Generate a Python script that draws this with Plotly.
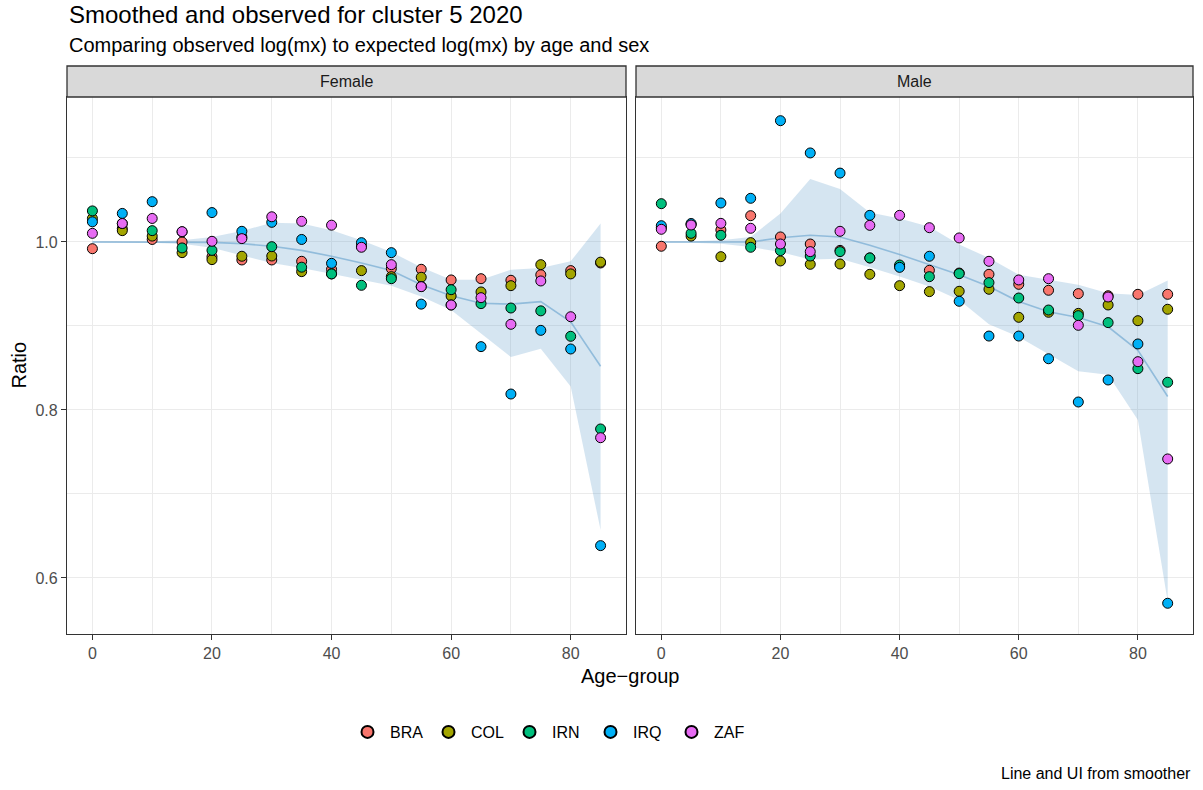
import plotly.graph_objects as go

# ---- data -------------------------------------------------------------
ages = [0, 5, 10, 15, 20, 25, 30, 35, 40, 45, 50, 55, 60, 65, 70, 75, 80, 85]
countries = ["BRA", "COL", "IRN", "IRQ", "ZAF"]
colors = {"BRA": "#F8766D", "COL": "#A3A500", "IRN": "#00BF7D",
          "IRQ": "#00B0F6", "ZAF": "#E76BF3"}

female_bra = [0.992, 1.016, 1.003, 1.000, 0.9825, 0.9786, 0.9786, 0.977, 0.9675, 0.995, 0.9683, 0.9675, 0.9548, 0.9563, 0.9544, 0.961, 0.9659, 0.975]
female_col = [1.028, 1.0135, 1.007, 0.9873, 0.979, 0.983, 0.9833, 0.9647, 0.962, 0.9659, 0.9587, 0.958, 0.9357, 0.9405, 0.948, 0.973, 0.962, 0.976]
female_irn = [1.037, 1.022, 1.0135, 0.9929, 0.990, 1.006, 0.9944, 0.970, 0.962, 0.9484, 0.9563, 0.947, 0.9432, 0.9266, 0.9214, 0.918, 0.8877, 0.7774]
female_irq = [1.024, 1.034, 1.048, 1.012, 1.035, 1.0127, 1.0234, 1.003, 0.9746, 0.9992, 0.9873, 0.926, 0.925, 0.8754, 0.819, 0.8948, 0.8726, 0.6385]
female_zaf = [1.0103, 1.022, 1.028, 1.0123, 1.0008, 1.004, 1.030, 1.0246, 1.020, 0.9937, 0.973, 0.9468, 0.925, 0.9337, 0.902, 0.9536, 0.911, 0.767]

male_bra = [0.9949, 1.021, 1.0143, 1.0313, 1.006, 0.9976, 0.990, 0.981, 0.971, 0.9663, 0.963, 0.9615, 0.9496, 0.9425, 0.9385, 0.936, 0.9377, 0.9377]
male_col = [1.017, 1.007, 0.9825, 0.9992, 0.9774, 0.9734, 0.9738, 0.9615, 0.948, 0.9409, 0.9413, 0.9437, 0.9103, 0.9163, 0.915, 0.925, 0.9063, 0.9199]
male_irn = [1.0456, 1.0103, 1.008, 0.9937, 0.9897, 0.9833, 0.9885, 0.981, 0.9726, 0.9587, 0.9623, 0.9516, 0.9333, 0.919, 0.9123, 0.904, 0.8492, 0.833]
male_irq = [1.0194, 1.022, 1.0464, 1.052, 1.1444, 1.106, 1.082, 1.0317, 0.9698, 0.983, 0.9294, 0.888, 0.888, 0.861, 0.8095, 0.8357, 0.8786, 0.5699]
male_zaf = [1.0151, 1.0202, 1.0222, 1.0163, 0.9976, 0.9885, 1.0127, 1.0198, 1.0317, 1.017, 1.0048, 0.977, 0.9548, 0.9563, 0.9008, 0.9345, 0.8575, 0.7417]

# smoother fit and uncertainty interval
female_fit = [1.0, 1.0, 1.0, 1.0, 0.9995, 0.998, 0.995, 0.990, 0.983, 0.975, 0.966, 0.949, 0.936, 0.927, 0.926, 0.929, 0.905, 0.852]
female_hi = [1.001, 1.001, 1.001, 1.002, 1.006, 1.013, 1.023, 1.022, 1.014, 1.002, 0.988, 0.970, 0.955, 0.955, 0.967, 0.969, 0.977, 1.022]
female_lo = [0.999, 0.999, 0.999, 0.998, 0.993, 0.984, 0.975, 0.969, 0.962, 0.955, 0.948, 0.935, 0.919, 0.891, 0.863, 0.873, 0.828, 0.657]

male_fit = [1.0, 1.0, 0.9995, 1.0, 1.005, 1.008, 1.006, 0.996, 0.985, 0.973, 0.961, 0.947, 0.929, 0.917, 0.910, 0.899, 0.871, 0.816]
male_hi = [1.001, 1.001, 1.002, 1.006, 1.034, 1.075, 1.063, 1.035, 1.028, 1.018, 0.997, 0.981, 0.961, 0.955, 0.949, 0.939, 0.937, 0.954]
male_lo = [0.999, 0.999, 0.998, 0.994, 0.988, 0.979, 0.980, 0.970, 0.959, 0.947, 0.931, 0.902, 0.887, 0.867, 0.846, 0.842, 0.788, 0.572]

female = {"BRA": female_bra, "COL": female_col, "IRN": female_irn,
          "IRQ": female_irq, "ZAF": female_zaf}
male = {"BRA": male_bra, "COL": male_col, "IRN": male_irn,
        "IRQ": male_irq, "ZAF": male_zaf}

x_ticks = [0, 20, 40, 60, 80]
y_ticks = [0.6, 0.8, 1.0]

# ---- layout geometry (pixels) ------------------------------------------
W, H = 1203, 790
FONT = "Liberation Sans, Arial, Helvetica, sans-serif"
px_x = lambda p: p / W
px_y = lambda p: 1 - p / H

panels = [("x", "y", 67, 626, "Female", female, female_fit, female_hi, female_lo),
          ("x2", "y2", 636, 1193, "Male", male, male_fit, male_hi, male_lo)]
panel_top, panel_bottom, strip_top = 97, 634, 66

fig = go.Figure()

for i, (xa, ya, left, right, label, obs, fit, hi, lo) in enumerate(panels):
    # uncertainty band
    fig.add_trace(go.Scatter(
        x=ages + ages[::-1], y=hi + lo[::-1], xaxis=xa, yaxis=ya,
        mode="lines", fill="toself", fillcolor="rgba(100,160,205,0.27)",
        line=dict(width=0), hoverinfo="skip", showlegend=False))
    # smoothed line
    fig.add_trace(go.Scatter(
        x=ages, y=fit, xaxis=xa, yaxis=ya, mode="lines",
        line=dict(color="rgba(100,160,205,0.6)", width=1.6),
        hoverinfo="skip", showlegend=False))

for i, (xa, ya, left, right, label, obs, fit, hi, lo) in enumerate(panels):
    for c in countries:
        fig.add_trace(go.Scatter(
            x=ages, y=obs[c], xaxis=xa, yaxis=ya, mode="markers",
            name=c, legendgroup=c, showlegend=(i == 0),
            marker=dict(size=10, color=colors[c], symbol="circle",
                        line=dict(color="black", width=1))))

axis_common = dict(
    showline=True, mirror=True, linecolor="#333333", linewidth=1.3,
    showgrid=True, gridcolor="#EBEBEB", gridwidth=1.3, zeroline=False,
    ticks="outside", ticklen=5, tickwidth=1.3, tickcolor="#333333",
    tickfont=dict(family=FONT, size=16, color="#4D4D4D"),
)

layout_axes = {}
for i, (xa, ya, left, right, label, obs, fit, hi, lo) in enumerate(panels):
    xkey = "xaxis" if xa == "x" else "xaxis2"
    ykey = "yaxis" if ya == "y" else "yaxis2"
    layout_axes[xkey] = dict(
        axis_common, domain=[px_x(left), px_x(right)], anchor=ya,
        range=[-4.25, 89.25], tickvals=x_ticks, ticktext=[str(v) for v in x_ticks],
        minor=dict(showgrid=True, gridcolor="#EBEBEB", gridwidth=0.7,
                   tick0=0, dtick=10, ticks=""))
    ydict = dict(
        axis_common, domain=[px_y(panel_bottom), px_y(panel_top)], anchor=xa,
        range=[0.5333, 1.1726], tickvals=y_ticks,
        ticktext=["%.1f" % v for v in y_ticks],
        minor=dict(showgrid=True, gridcolor="#EBEBEB", gridwidth=0.7,
                   tick0=0.6, dtick=0.1, ticks=""))
    if i == 1:
        ydict.update(showticklabels=False, ticks="", matches="y")
    layout_axes[ykey] = ydict

shapes = []
annotations = []
for (xa, ya, left, right, label, *_rest) in panels:
    shapes.append(dict(type="rect", xref="paper", yref="paper",
                       x0=px_x(left), x1=px_x(right),
                       y0=px_y(panel_top), y1=px_y(strip_top),
                       fillcolor="#D9D9D9", line=dict(color="#333333", width=1.3)))
    annotations.append(dict(text=label, xref="paper", yref="paper",
                            x=px_x((left + right) / 2), y=px_y((panel_top + strip_top) / 2),
                            xanchor="center", yanchor="middle", showarrow=False,
                            font=dict(family=FONT, size=16, color="#1A1A1A")))

annotations += [
    dict(text="Smoothed and observed for cluster 5 2020", xref="paper", yref="paper",
         x=px_x(67), y=px_y(15), xanchor="left", yanchor="middle", showarrow=False,
         font=dict(family=FONT, size=24, color="black")),
    dict(text="Comparing observed log(mx) to expected log(mx) by age and sex",
         xref="paper", yref="paper", x=px_x(67), y=px_y(45), xanchor="left",
         yanchor="middle", showarrow=False,
         font=dict(family=FONT, size=20, color="black")),
    dict(text="Ratio", xref="paper", yref="paper", x=px_x(18),
         y=px_y((panel_top + panel_bottom) / 2), textangle=-90,
         xanchor="center", yanchor="middle", showarrow=False,
         font=dict(family=FONT, size=20, color="black")),
    dict(text="Age\u2212group", xref="paper", yref="paper", x=px_x((67 + 1193) / 2),
         y=px_y(676), xanchor="center", yanchor="middle", showarrow=False,
         font=dict(family=FONT, size=20, color="black")),
    dict(text="Line and UI from smoother", xref="paper", yref="paper", x=px_x(1193),
         y=px_y(773), xanchor="right", yanchor="middle", showarrow=False,
         font=dict(family=FONT, size=16, color="black")),
]

fig.update_layout(
    width=W, height=H, margin=dict(l=0, r=0, t=0, b=0),
    paper_bgcolor="white", plot_bgcolor="white",
    font=dict(family=FONT, color="black"),
    showlegend=True,
    legend=dict(orientation="h", x=px_x(345), xanchor="left",
                y=px_y(732), yanchor="middle",
                font=dict(family=FONT, size=16, color="black"),
                itemwidth=35, entrywidth=31, entrywidthmode="pixels",
                itemsizing="constant", bgcolor="rgba(0,0,0,0)"),
    shapes=shapes, annotations=annotations,
    **layout_axes,
)

fig.write_html("out.html")
